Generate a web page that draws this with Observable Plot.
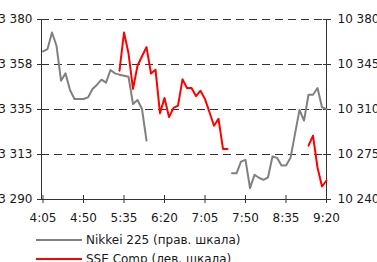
<!DOCTYPE html>
<html>
<head>
<meta charset="utf-8">
<script src="https://cdn.jsdelivr.net/npm/d3@7"></script>
<script src="https://cdn.jsdelivr.net/npm/@observablehq/plot@0.6"></script>
<style>
  html, body { margin: 0; padding: 0; background: #fff; }
  body { width: 377px; height: 262px; overflow: hidden; font-family: "DejaVu Sans", sans-serif; }
  #legend { font-size: 12px; color: #1a1a1a; padding-top: 1px; }
  .row { height: 18.6px; line-height: 18.6px; white-space: nowrap; display: flex; align-items: center; }
  .sw { display: inline-block; width: 46px; height: 0; margin-left: 36px; margin-right: 4px; border-top: 2px solid; }
</style>
</head>
<body>
<div id="chart"></div>
<div id="legend"></div>
<script>
const times = ["4:05","4:10","4:15","4:20","4:25","4:30","4:35","4:40","4:45","4:50","4:55","5:00","5:05","5:10","5:15","5:20","5:25","5:30","5:35","5:40","5:45","5:50","5:55","6:00","6:05","6:10","6:15","6:20","6:25","6:30","6:35","6:40","6:45","6:50","6:55","7:00","7:05","7:10","7:15","7:20","7:25","7:30","7:35","7:40","7:45","7:50","7:55","8:00","8:05","8:10","8:15","8:20","8:25","8:30","8:35","8:40","8:45","8:50","8:55","9:00","9:05","9:10","9:15","9:20"];

const nikkei = [10355.2, 10357, 10369.9, 10359.6, 10332.4, 10338.1, 10325.2, 10318.2, 10318.2, 10318.2, 10319.4, 10326, 10329.3, 10333.2, 10330.9, 10340.7, 10338.1, 10337.1, 10336.3, 10335.5, 10314.3, 10317.4, 10310.4, 10285.8,
  null, null, null, null, null, null, null, null, null, null, null, null, null, null, null, null, null, null,
  10260.4, 10260.4, 10269.5, 10270.8, 10248.8, 10259.2, 10256.9, 10255.3, 10257.3, 10273.4, 10272.4, 10266.4, 10266.4, 10272.4, 10291.0, 10309.7, 10301.4, 10321.5, 10321.5, 10326.7, 10311.7, 10310.4];

const sse = [null, null, null, null, null, null, null, null, null, null, null, null, null, null, null, null, null,
  3354.4, 3373.5, 3363.1, 3345.3, 3356.9, 3361.6, 3366.2, 3353.0, 3354.9, 3333.1, 3340.8, 3331.2, 3335.8, 3336.9, 3350.1, 3345.7, 3345.7, 3341.7, 3344.4, 3340.2, 3333.6, 3326.9, 3330.3, 3315.3, 3315.3,
  null, null, null, null, null, null, null, null, null, null, null, null, null, null, null, null, null,
  3316.9, 3321.9, 3306.0, 3296.5, 3299.5];

const xTickLabels = ["4:05","4:50","5:35","6:20","7:05","7:50","8:35","9:20"];
const nikkeiTicks = [10240, 10275, 10310, 10345, 10380];
const nikkeiTickLabels = ["10 240","10 275","10 310","10 345","10 380"];
const sseTicks = [3290, 3312.5, 3335, 3357.5, 3380];
const sseTickLabels = ["3 290","3 313","3 335","3 358","3 380"];

const seriesNames = ["Nikkei 225 (прав. шкала)", "SSE Comp (лев. шкала)"];
const seriesColors = ["#808080", "#ff0000"];

const minutes = s => { const [h, m] = s.split(":").map(Number); return h * 60 + m; };

// SSE (left axis) mapped into the Nikkei (right axis) domain so both share the y scale
const sseToY = v => v == null ? NaN :
  nikkeiTicks[0] + (v - sseTicks[0]) * (nikkeiTicks[4] - nikkeiTicks[0]) / (sseTicks[4] - sseTicks[0]);

const rows = times.map((t, i) => ({t: minutes(t), nk: nikkei[i], sse: sse[i]}));
const xTicks = xTickLabels.map(minutes);
const xLab = new Map(xTicks.map((d, i) => [d, xTickLabels[i]]));
const rightLab = new Map(nikkeiTicks.map((d, i) => [d, nikkeiTickLabels[i]]));
const leftPos = sseTicks.map(sseToY);
const leftLab = new Map(leftPos.map((d, i) => [d, sseTickLabels[i]]));

const xMin = minutes("4:05") - 1.67, xMax = minutes("9:20");

const chart = Plot.plot({
  width: 377, height: 230,
  marginLeft: 41, marginRight: 51, marginTop: 19, marginBottom: 31,
  style: {fontFamily: "DejaVu Sans", fontSize: "12px", color: "#1a1a1a", background: "white"},
  x: {domain: [xMin, xMax], label: null},
  y: {domain: [nikkeiTicks[0], nikkeiTicks[4]], label: null},
  marks: [
    Plot.gridY(nikkeiTicks, {stroke: "#333", strokeOpacity: 1, strokeDasharray: "8,5"}),
    Plot.axisY(leftPos, {anchor: "left", tickSize: 8, dx: 4, tickFormat: () => "", stroke: "#333", label: null}),
    Plot.axisY(leftPos, {anchor: "left", tickSize: 0, tickPadding: 9, tickFormat: d => leftLab.get(d), label: null}),
    Plot.axisY(nikkeiTicks, {anchor: "right", tickSize: 8, dx: -4, tickFormat: () => "", stroke: "#333", label: null}),
    Plot.axisY(nikkeiTicks, {anchor: "right", tickSize: 0, tickPadding: 11, tickFormat: d => rightLab.get(d), label: null}),
    Plot.axisX(xTicks, {anchor: "bottom", tickSize: 8, dy: -4, tickFormat: () => "", stroke: "#333", label: null}),
    Plot.axisX(xTicks, {anchor: "bottom", tickSize: 0, tickPadding: 14, tickFormat: d => xLab.get(d), label: null}),
    Plot.ruleX([xMin, xMax], {stroke: "#333"}),
    Plot.ruleY([nikkeiTicks[0]], {stroke: "#333"}),
    Plot.line(rows, {x: "t", y: d => d.nk == null ? NaN : d.nk, stroke: seriesColors[0], strokeWidth: 2}),
    Plot.line(rows, {x: "t", y: d => sseToY(d.sse), stroke: seriesColors[1], strokeWidth: 2})
  ]
});
document.getElementById("chart").appendChild(chart);

const legend = document.getElementById("legend");
seriesNames.forEach((name, i) => {
  const row = document.createElement("div");
  row.className = "row";
  const sw = document.createElement("span");
  sw.className = "sw";
  sw.style.borderTopColor = seriesColors[i];
  row.appendChild(sw);
  row.appendChild(document.createTextNode(name));
  legend.appendChild(row);
});
</script>
</body>
</html>
